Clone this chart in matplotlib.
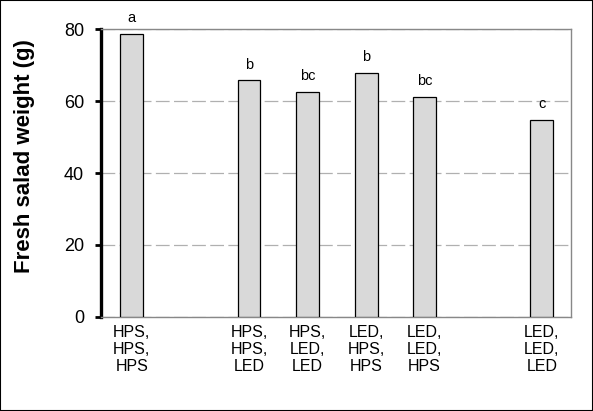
import matplotlib
matplotlib.use("Agg")
import matplotlib.pyplot as plt
from matplotlib.patches import Rectangle

categories = ["HPS,\nHPS,\nHPS", "HPS,\nHPS,\nLED", "HPS,\nLED,\nLED",
              "LED,\nHPS,\nHPS", "LED,\nLED,\nHPS", "LED,\nLED,\nLED"]
positions = [0, 2, 3, 4, 5, 7]
values = [78.7, 65.8, 62.5, 67.8, 61.1, 54.7]
letters = ["a", "b", "bc", "b", "bc", "c"]
yticks = [0, 20, 40, 60, 80]

plt.rcParams['font.family'] = ['Liberation Sans', 'DejaVu Sans']

fig = plt.figure(figsize=(5.93, 4.11), dpi=100)
ax = fig.add_axes([0.170, 0.2294, 0.793, 0.6993])

ax.bar(positions, values, width=0.39, color='#d9d9d9', edgecolor='black',
       linewidth=0.9, zorder=3)

for p, v, t in zip(positions, values, letters):
    ax.annotate(t, (p, v), xytext=(0, 8.5), textcoords='offset points',
                ha='center', va='baseline', fontsize=10.5, color='black')

ax.set_xlim(-0.53, 7.5)
ax.set_ylim(0, 80)
ax.set_yticks(yticks)
ax.set_yticklabels([str(t) for t in yticks], fontsize=13)
ax.set_xticks(positions)
ax.set_xticklabels(categories, fontsize=11.5, linespacing=1.15)
ax.tick_params(axis='x', length=0, pad=6)
ax.tick_params(axis='y', length=4, width=2, direction='out', pad=8, color='black')

ax.yaxis.grid(True, color='#b0b0b0', linewidth=0.9, linestyle=(0, (11, 3.5)), zorder=0)
ax.set_axisbelow(True)

for s in ['top', 'right', 'bottom']:
    ax.spines[s].set_color('#888888')
    ax.spines[s].set_linewidth(1.0)
ax.spines['left'].set_color('black')
ax.spines['left'].set_linewidth(2.4)

fig.text(0.0405, 0.6204, "Fresh salad weight (g)", rotation=90, ha='center',
         va='center', fontsize=16, fontweight='bold')

fig.patches.append(Rectangle((0, 0), 1, 1, transform=fig.transFigure, fill=False,
                             edgecolor='black', linewidth=1.5, zorder=10))

fig.savefig("out.png", dpi=100)
